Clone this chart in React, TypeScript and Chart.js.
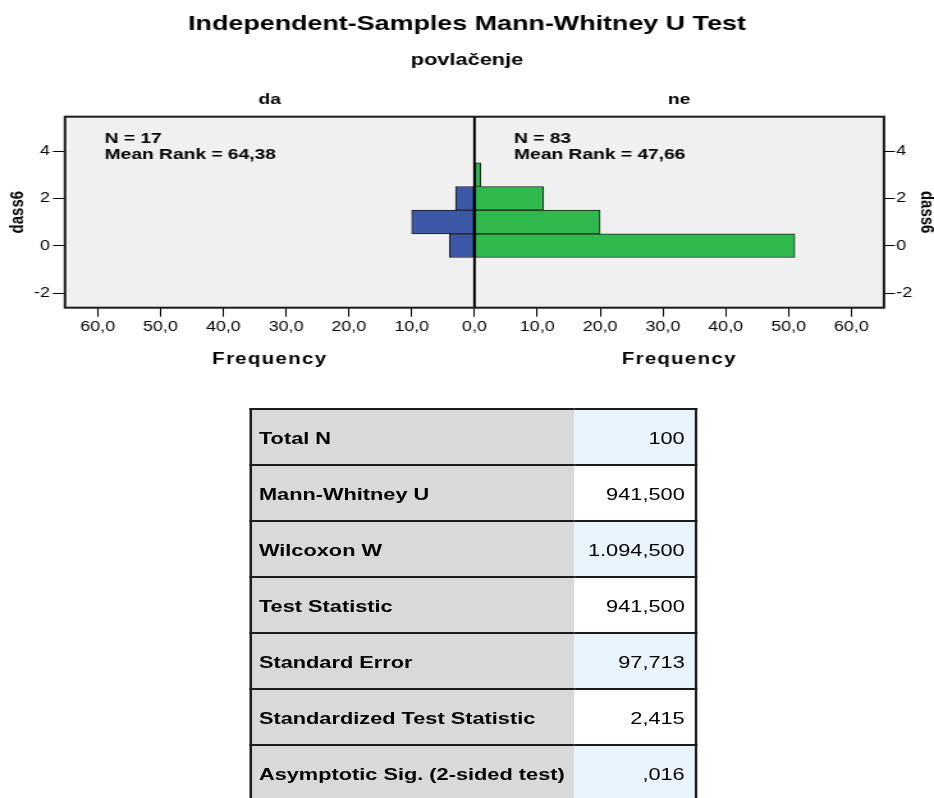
import React, { useEffect, useRef } from "react";
import { Chart, registerables } from "chart.js";

Chart.register(...registerables);

// ---------- data ----------
const TITLE = "Independent-Samples Mann-Whitney U Test";
const SUBTITLE = "povlačenje";
const GROUPS = ["da", "ne"];
const GROUP_N = [17, 83];
const MEAN_RANKS = ["64,38", "47,66"];
const BIN_CENTERS = [0, 1, 2, 3];
const DA_FREQ = [4, 10, 3, 0];
const NE_FREQ = [51, 20, 11, 1];
const X_TICKS = [-60, -50, -40, -30, -20, -10, 0, 10, 20, 30, 40, 50, 60];
const Y_TICKS = [-2, 0, 2, 4];
const X_LIMIT = 65.2;
const Y_MIN = -2.62;
const Y_MAX = 5.45;
const Y_TITLE = "dass6";
const X_TITLE = "Frequency";
const TABLE_LABELS = [
  "Total N",
  "Mann-Whitney U",
  "Wilcoxon W",
  "Test Statistic",
  "Standard Error",
  "Standardized Test Statistic",
  "Asymptotic Sig. (2-sided test)",
];
const TABLE_VALUES = ["100", "941,500", "1.094,500", "941,500", "97,713", "2,415", ",016"];

// ---------- style ----------
const FONT = '"Liberation Sans", Arial, Helvetica, sans-serif';
const PAGE_W = 934;
const BASE_W = 730; // drawn width, stretched horizontally to the page width
const STRETCH = PAGE_W / BASE_W;
const CANVAS_H = 390;
const BLUE = "#3e58a8";
const GREEN = "#2fb84b";
const PLOT_BG = "#f0f0f0";

const decorPlugin = {
  id: "decor",
  beforeDraw(chart: any) {
    const { ctx, chartArea: a } = chart;
    ctx.save();
    ctx.fillStyle = PLOT_BG;
    ctx.fillRect(a.left, a.top, a.right - a.left, a.bottom - a.top);
    ctx.restore();
  },
  afterDatasetsDraw(chart: any) {
    const { ctx, chartArea: a } = chart;
    const x0 = chart.scales.x.getPixelForValue(0);
    ctx.save();
    ctx.strokeStyle = "#000";
    ctx.lineWidth = 2;
    ctx.beginPath();
    ctx.moveTo(x0, a.top);
    ctx.lineTo(x0, a.bottom);
    ctx.stroke();
    ctx.restore();
  },
  afterDraw(chart: any) {
    const { ctx, chartArea: a } = chart;
    const x0 = chart.scales.x.getPixelForValue(0);
    ctx.save();
    ctx.strokeStyle = "#1a1a1a";
    ctx.lineWidth = 2;
    ctx.strokeRect(a.left, a.top, a.right - a.left, a.bottom - a.top);

    const halves = [
      [a.left, x0],
      [x0, a.right],
    ];
    ctx.fillStyle = "#000";
    halves.forEach(([l, r], i) => {
      const cx = (l + r) / 2;
      // group header
      ctx.font = `bold 15px ${FONT}`;
      ctx.textAlign = "center";
      ctx.textBaseline = "middle";
      ctx.fillText(GROUPS[i], cx, a.top - 17);
      // x axis title
      ctx.font = `bold 16px ${FONT}`;
      (ctx as any).letterSpacing = "1px";
      ctx.fillText(X_TITLE, cx, a.bottom + 52);
      (ctx as any).letterSpacing = "0px";
      // annotation
      ctx.font = `bold 15px ${FONT}`;
      ctx.textAlign = "left";
      ctx.textBaseline = "alphabetic";
      ctx.fillText(`N = ${GROUP_N[i]}`, l + 31, a.top + 26.5);
      ctx.fillText(`Mean Rank = ${MEAN_RANKS[i]}`, l + 31, a.top + 42.3);
    });
    ctx.restore();
  },
};

function fmtFreq(v: number) {
  return Math.abs(v).toFixed(1).replace(".", ",");
}

export default function App() {
  const canvasRef = useRef<HTMLCanvasElement | null>(null);

  useEffect(() => {
    const canvas = canvasRef.current;
    if (!canvas) return;

    const daData = BIN_CENTERS.map((b, i) => ({ y: b, x: -DA_FREQ[i] })).filter((d) => d.x !== 0);
    const neData = BIN_CENTERS.map((b, i) => ({ y: b, x: NE_FREQ[i] })).filter((d) => d.x !== 0);

    const yTickCfg = (pad: number) => ({
      color: "#000",
      font: { family: FONT, size: 14 },
      padding: pad,
    });

    const chart = new Chart(canvas, {
      type: "bar",
      data: {
        datasets: [
          {
            label: GROUPS[0],
            data: daData as any,
            backgroundColor: BLUE,
            borderColor: "#1e1e1e",
            borderWidth: 1,
            borderSkipped: false,
            grouped: false,
            barPercentage: 1,
            categoryPercentage: 1,
            xAxisID: "x",
            yAxisID: "y",
          },
          {
            label: GROUPS[1],
            data: neData as any,
            backgroundColor: GREEN,
            borderColor: "#1e1e1e",
            borderWidth: 1,
            borderSkipped: false,
            grouped: false,
            barPercentage: 1,
            categoryPercentage: 1,
            xAxisID: "x",
            yAxisID: "y",
          },
        ],
      },
      options: {
        indexAxis: "y",
        responsive: false,
        animation: false,
        events: [],
        layout: { padding: 0 },
        plugins: {
          legend: { display: false },
          tooltip: { enabled: false },
          title: {
            display: true,
            text: TITLE,
            color: "#000",
            font: { family: FONT, size: 21, weight: "bold", lineHeight: 1.2 },
            padding: { top: 11.5, bottom: 13 },
          },
          subtitle: {
            display: true,
            text: SUBTITLE,
            color: "#000",
            font: { family: FONT, size: 17, weight: "bold", lineHeight: 1.2 },
            padding: { top: 0, bottom: 46.6 },
          },
        },
        scales: {
          x: {
            type: "linear",
            position: "bottom",
            min: -X_LIMIT,
            max: X_LIMIT,
            offset: false,
            afterBuildTicks: (s: any) => {
              s.ticks = X_TICKS.map((v) => ({ value: v }));
            },
            afterFit: (s: any) => {
              s.height = CANVAS_H - 307.7;
            },
            ticks: {
              color: "#000",
              font: { family: FONT, size: 14 },
              padding: 2.5,
              maxRotation: 0,
              autoSkip: false,
              callback: (v: any) => fmtFreq(Number(v)),
            },
            grid: { drawOnChartArea: false, offset: false, color: "#000", tickLength: 9, tickWidth: 1 },
            border: { display: false },
          },
          y: {
            type: "linear",
            position: "left",
            min: Y_MIN,
            max: Y_MAX,
            offset: false,
            afterBuildTicks: (s: any) => {
              s.ticks = Y_TICKS.map((v) => ({ value: v }));
            },
            afterFit: (s: any) => {
              s.width = 50.8;
            },
            ticks: { ...yTickCfg(2.4), callback: (v: any) => String(v) },
            grid: { drawOnChartArea: false, offset: false, color: "#000", tickLength: 9.4, tickWidth: 1 },
            border: { display: false },
            title: {
              display: true,
              text: Y_TITLE,
              color: "#000",
              font: { family: FONT, size: 15, weight: "bold", lineHeight: 1.2 },
              padding: { top: 5, bottom: 0 },
            },
          },
          y2: {
            type: "linear",
            position: "right",
            min: Y_MIN,
            max: Y_MAX,
            offset: false,
            afterBuildTicks: (s: any) => {
              s.ticks = Y_TICKS.map((v) => ({ value: v }));
            },
            afterFit: (s: any) => {
              s.width = BASE_W - 690.9;
            },
            ticks: { ...yTickCfg(1), callback: (v: any) => String(v) },
            grid: { drawOnChartArea: false, offset: false, color: "#000", tickLength: 8.6, tickWidth: 1 },
            border: { display: false },
            title: {
              display: true,
              text: Y_TITLE,
              color: "#000",
              font: { family: FONT, size: 15, weight: "bold", lineHeight: 1.2 },
              padding: { top: -2.8, bottom: 0 },
            },
          },
        },
      } as any,
      plugins: [decorPlugin],
    });

    return () => chart.destroy();
  }, []);

  const rowH = 56;
  const border = "2px solid #1c1c1c";

  return (
    <div
      style={{
        position: "absolute",
        left: 0,
        top: 0,
        width: PAGE_W,
        height: 798,
        overflow: "hidden",
        background: "#fff",
      }}
    >
      <div
        style={{
          position: "absolute",
          left: 0,
          top: 0,
          width: BASE_W,
          height: 798,
          transform: `scaleX(${STRETCH})`,
          transformOrigin: "0 0",
        }}
      >
        <canvas
          ref={canvasRef}
          width={BASE_W}
          height={CANVAS_H}
          style={{ display: "block", width: BASE_W, height: CANVAS_H }}
        />
        <table
          style={{
            position: "absolute",
            left: 195.4,
            top: 408,
            width: 347.8,
            borderCollapse: "collapse",
            tableLayout: "fixed",
            fontFamily: FONT,
            fontSize: 17,
            color: "#000",
          }}
        >
          <colgroup>
            <col style={{ width: 252.4 }} />
            <col style={{ width: 95.4 }} />
          </colgroup>
          <tbody>
            {TABLE_LABELS.map((lab, i) => (
              <tr key={lab} style={{ height: rowH }}>
                <td
                  style={{
                    background: "#d9d9db",
                    borderTop: border,
                    borderBottom: border,
                    borderLeft: border,
                    padding: "4px 0 0 5px",
                    fontWeight: "bold",
                    whiteSpace: "nowrap",
                    height: rowH - 6,
                    boxSizing: "border-box",
                  }}
                >
                  {lab}
                </td>
                <td
                  style={{
                    background: i % 2 === 0 ? "#eaf4fd" : "#ffffff",
                    borderTop: border,
                    borderBottom: border,
                    borderRight: border,
                    padding: "4px 8px 0 0",
                    textAlign: "right",
                    whiteSpace: "nowrap",
                    height: rowH - 6,
                    boxSizing: "border-box",
                  }}
                >
                  {TABLE_VALUES[i]}
                </td>
              </tr>
            ))}
          </tbody>
        </table>
      </div>
    </div>
  );
}
